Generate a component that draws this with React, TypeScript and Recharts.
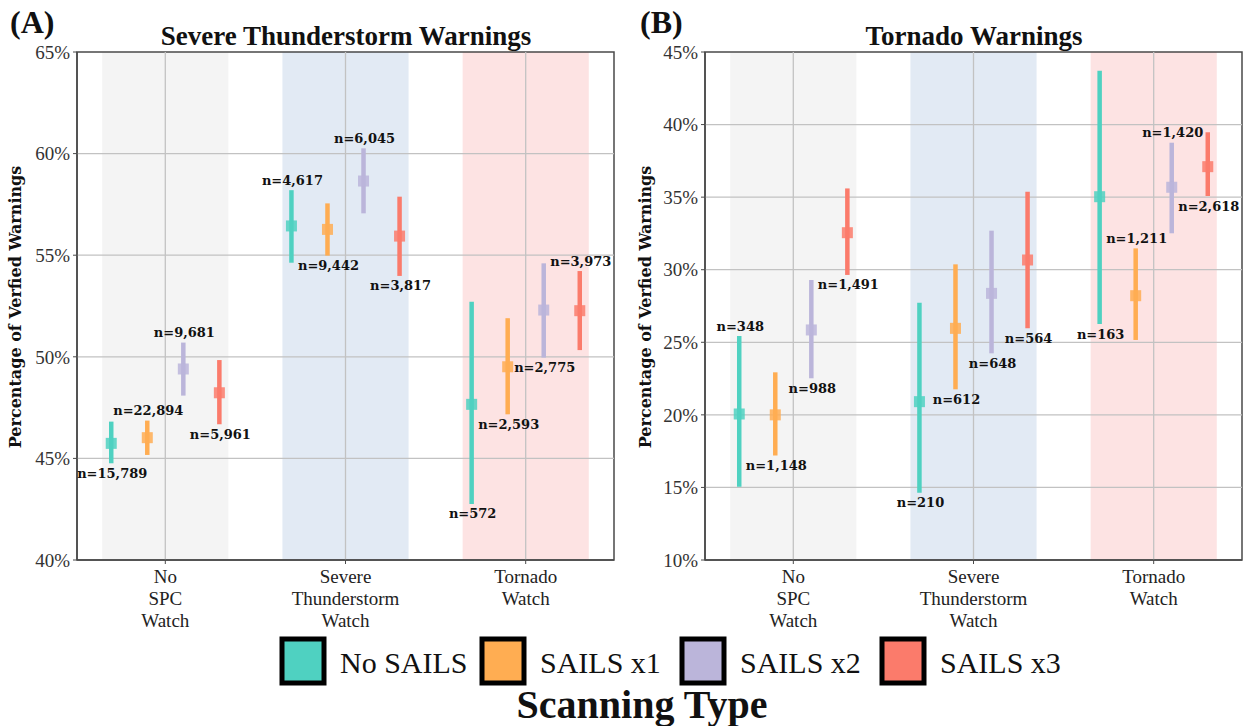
import React from "react";
import { ComposedChart, Scatter, ErrorBar, XAxis, YAxis, ReferenceArea, ReferenceLine } from "recharts";

const watchTickLines = [["No", "SPC", "Watch"], ["Severe", "Thunderstorm", "Watch"], ["Tornado", "Watch"]];
const watchPositions = [0, 1, 2];
const scanTypes = ["No SAILS", "SAILS x1", "SAILS x2", "SAILS x3"];
const scanColors = ["#4fd1c1", "#ffad52", "#bbb5da", "#fb7b6b"];
const bandColors = ["#f4f4f4", "#e2eaf4", "#fde3e3"];
const OFFSETS = [-0.3, -0.1, 0.1, 0.3];

// (A) severe thunderstorm warnings — rows = scan type, cols = watch type
const svrTicks = [40, 45, 50, 55, 60, 65];
const svrMean = [
  [45.74, 56.44, 47.66],
  [46.02, 56.27, 49.51],
  [49.4, 58.65, 52.3],
  [48.23, 55.94, 52.27],
];
const svrLow = [
  [44.76, 54.63, 42.76],
  [45.17, 54.98, 47.17],
  [48.09, 57.06, 49.96],
  [46.68, 53.98, 50.33],
];
const svrHigh = [
  [46.81, 58.2, 52.71],
  [46.86, 57.55, 51.9],
  [50.7, 60.26, 54.6],
  [49.84, 57.88, 54.22],
];
const svrN = [
  ["15,789", "4,617", "572"],
  ["22,894", "9,442", "2,593"],
  ["9,681", "6,045", "2,775"],
  ["5,961", "3,817", "3,973"],
];
// a = label above the bar, b = below
const svrLabelPos = [
  ["b", "a", "b"],
  ["a", "b", "b"],
  ["a", "a", "b"],
  ["b", "b", "a"],
];

// (B) tornado warnings
const torTicks = [10, 15, 20, 25, 30, 35, 40, 45];
const torMean = [
  [20.06, 20.91, 35.03],
  [20.0, 25.96, 28.21],
  [25.85, 28.37, 35.68],
  [32.55, 30.67, 37.1],
];
const torLow = [
  [15.05, 14.64, 26.26],
  [17.2, 21.76, 25.16],
  [22.52, 24.24, 32.51],
  [29.64, 25.96, 35.08],
];
const torHigh = [
  [25.43, 27.73, 43.71],
  [22.93, 30.37, 31.47],
  [29.29, 32.69, 38.75],
  [35.6, 35.38, 39.47],
];
const torN = [
  ["348", "210", "163"],
  ["1,148", "612", "1,211"],
  ["988", "648", "1,420"],
  ["1,491", "564", "2,618"],
];
const torLabelPos = [
  ["a", "b", "b"],
  ["b", "b", "a"],
  ["b", "b", "a"],
  ["b", "b", "b"],
];

function buildSeries(mean: number[][], low: number[][], high: number[][]) {
  return mean.map((row, s) =>
    row.map((m, g) => ({ x: g + OFFSETS[s], y: m, err: [m - low[s][g], high[s][g] - m] }))
  );
}

function buildLabels(low: number[][], high: number[][], n: string[][], pos: string[][]) {
  const out: any[] = [];
  n.forEach((row, s) =>
    row.forEach((v, g) => {
      const above = pos[s][g] === "a";
      out.push({ x: g + OFFSETS[s], y: above ? high[s][g] : low[s][g], n: v, above });
    })
  );
  return out;
}

const WatchTick = (props: any) => {
  const { x, y, payload } = props;
  const lines = watchTickLines[payload.value] || [];
  return (
    <text x={x} y={y} textAnchor="middle" fontFamily="Liberation Serif" fontSize={19} fill="#222">
      {lines.map((l, i) => (
        <tspan key={i} x={x} dy={i === 0 ? 17 : 22}>
          {l}
        </tspan>
      ))}
    </text>
  );
};

const NLabel = (props: any) => {
  const { cx, cy, payload } = props;
  if (cx == null || cy == null) return null;
  return (
    <text
      x={cx + 1}
      y={cy + (payload.above ? -10 : 10)}
      dy="0.35em"
      textAnchor="middle"
      fontFamily="DejaVu Serif"
      fontWeight="bold"
      fontSize={13}
      fill="#111"
    >
      n={payload.n}
    </text>
  );
};

interface PanelProps {
  left: number;
  yWidth: number;
  rightMargin: number;
  ticks: number[];
  series: any[][];
  labels: any[];
}

function Panel({ left, yWidth, rightMargin, ticks, series, labels }: PanelProps) {
  const yMin = ticks[0];
  const yMax = ticks[ticks.length - 1];
  return (
    <div style={{ position: "absolute", left, top: 0 }}>
      <ComposedChart width={625} height={640} margin={{ top: 52, right: rightMargin, bottom: 0, left: 0 }}>
        <XAxis
          type="number"
          dataKey="x"
          domain={[-0.49, 2.49]}
          ticks={watchPositions}
          allowDataOverflow
          height={80}
          tick={<WatchTick />}
          tickSize={4}
          tickMargin={2}
          axisLine={{ stroke: "#4a4a4a", strokeWidth: 1.5 }}
          tickLine={{ stroke: "#4a4a4a" }}
        />
        <YAxis
          type="number"
          dataKey="y"
          domain={[yMin, yMax]}
          ticks={ticks}
          allowDataOverflow
          width={yWidth}
          tickFormatter={(v: number) => `${v}%`}
          tick={{ fontFamily: "Liberation Serif", fontSize: 19, fill: "#333" }}
          tickSize={4}
          tickMargin={3}
          axisLine={{ stroke: "#4a4a4a", strokeWidth: 1.5 }}
          tickLine={{ stroke: "#4a4a4a" }}
        />
        {bandColors.map((c, i) => (
          <ReferenceArea key={"band" + i} x1={i - 0.35} x2={i + 0.35} y1={yMin} y2={yMax} fill={c} fillOpacity={1} stroke="none" />
        ))}
        {ticks.slice(1, -1).map((t) => (
          <ReferenceLine key={"h" + t} y={t} stroke="#c2c2c2" strokeWidth={1.3} />
        ))}
        {watchPositions.map((p) => (
          <ReferenceLine key={"v" + p} x={p} stroke="#c2c2c2" strokeWidth={1.3} />
        ))}
        <ReferenceArea x1={-0.49} x2={2.49} y1={yMin} y2={yMax} fill="none" stroke="#4a4a4a" strokeWidth={1.5} />
        {series.map((data, s) => (
          <Scatter
            key={s}
            data={data}
            dataKey="y"
            fill={scanColors[s]}
            isAnimationActive={false}
            shape={(p: any) => (
              <rect x={p.cx - 5.5} y={p.cy - 5.5} width={11} height={11} fill={scanColors[s]} fillOpacity={0.85} />
            )}
          >
            <ErrorBar dataKey="err" direction="y" width={0} stroke={scanColors[s]} strokeWidth={4.5} isAnimationActive={false} />
          </Scatter>
        ))}
        <Scatter data={labels} dataKey="y" isAnimationActive={false} shape={<NLabel />} />
      </ComposedChart>
    </div>
  );
}

export default function App() {
  const svrSeries = buildSeries(svrMean, svrLow, svrHigh);
  const svrLabels = buildLabels(svrLow, svrHigh, svrN, svrLabelPos);
  const torSeries = buildSeries(torMean, torLow, torHigh);
  const torLabels = buildLabels(torLow, torHigh, torN, torLabelPos);

  return (
    <div style={{ position: "absolute", left: 0, top: 0, width: 1250, height: 726, background: "#fff", overflow: "hidden" }}>
      <Panel left={0} yWidth={77} rightMargin={11} ticks={svrTicks} series={svrSeries} labels={svrLabels} />
      <Panel left={625} yWidth={80} rightMargin={8} ticks={torTicks} series={torSeries} labels={torLabels} />

      <svg width={1250} height={726} style={{ position: "absolute", left: 0, top: 0, pointerEvents: "none" }}>
        <text x={10} y={33} fontFamily="Liberation Serif" fontWeight="bold" fontSize={32} fill="#111">(A)</text>
        <text x={640} y={33} fontFamily="Liberation Serif" fontWeight="bold" fontSize={32} fill="#111">(B)</text>
        <text x={346} y={45} textAnchor="middle" fontFamily="Liberation Serif" fontWeight="bold" fontSize={27} fill="#111">
          Severe Thunderstorm Warnings
        </text>
        <text x={974} y={45} textAnchor="middle" fontFamily="Liberation Serif" fontWeight="bold" fontSize={27} fill="#111">
          Tornado Warnings
        </text>
        <text transform="translate(21, 307) rotate(-90)" textAnchor="middle" fontFamily="DejaVu Serif" fontWeight="bold" fontSize={16} fill="#111">
          Percentage of Verfied Warnings
        </text>
        <text transform="translate(651, 307) rotate(-90)" textAnchor="middle" fontFamily="DejaVu Serif" fontWeight="bold" fontSize={16} fill="#111">
          Percentage of Verfied Warnings
        </text>

        {scanTypes.map((name, i) => (
          <g key={name}>
            <rect x={282 + i * 200} y={639} width={42} height={44} fill={scanColors[i]} stroke="#000" strokeWidth={5} />
            <text x={340 + i * 200} y={673} fontFamily="Liberation Serif" fontSize={30} fill="#111">
              {name}
            </text>
          </g>
        ))}
        <text x={642} y={718} textAnchor="middle" fontFamily="Liberation Serif" fontWeight="bold" fontSize={40} fill="#111">
          Scanning Type
        </text>
      </svg>
    </div>
  );
}
